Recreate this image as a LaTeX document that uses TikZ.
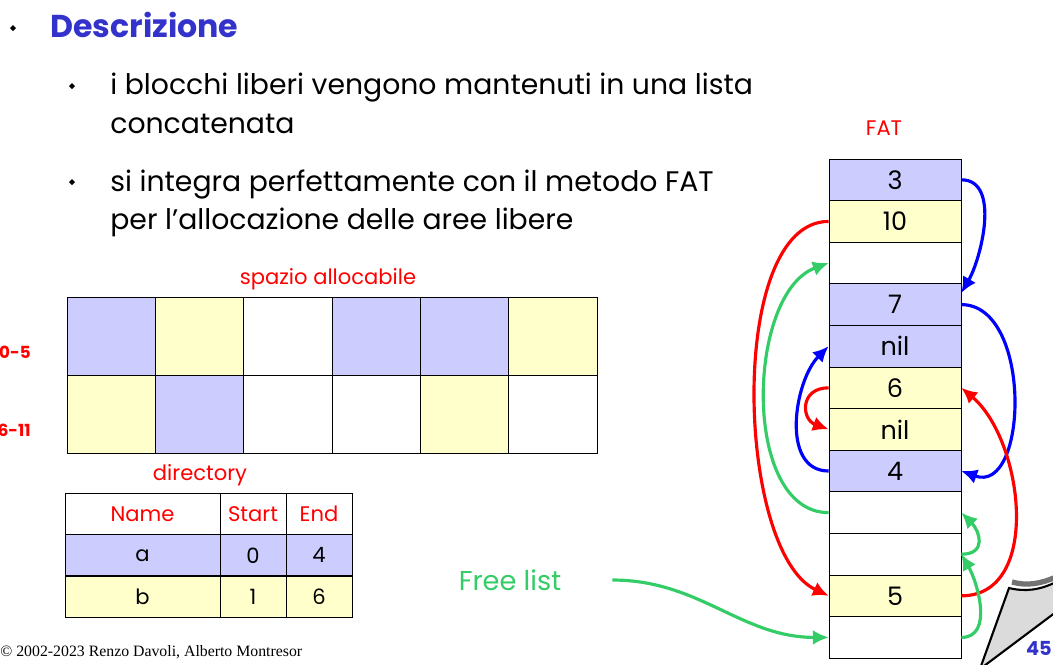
\documentclass[tikz,border=0pt]{standalone}
\usepackage{fontspec}
\setmainfont{Poppins}
\newfontfamily\footfont{Liberation Serif}
\usetikzlibrary{arrows.meta}
\definecolor{blu}{RGB}{204,204,255}
\definecolor{yel}{RGB}{255,255,204}
\definecolor{tblue}{RGB}{51,51,204}
\definecolor{fgreen}{RGB}{51,204,102}
\tikzset{
  cell/.style={draw, minimum width=2.64cm, minimum height=0.832cm, inner sep=0pt,
    font=\fontsize{14.5}{14.5}\selectfont},
  tcell/.style={draw, minimum height=0.82cm, inner sep=0pt, font=\fontsize{12}{12}\selectfont},
  link/.style={line width=1.8pt, -{Latex[length=9pt,width=8.5pt]}},
  body/.style={anchor=base west, inner sep=0pt, font=\fontsize{16.1}{16.1}\selectfont},
  lab/.style={text=red, font=\fontsize{12}{12}\selectfont},
  rowlab/.style={anchor=east, inner sep=0pt, text=red, font=\fontsize{9.5}{9.5}\selectfont\bfseries}
}
\begin{document}
\begin{tikzpicture}[x=0.02cm, y=-0.02cm]
\useasboundingbox (0,0) rectangle (1053,664);
% bullets
\fill (13,25) -- (16,28) -- (13,31) -- (10,28) -- cycle;
\fill (72,83) -- (75,86) -- (72,89) -- (69,86) -- cycle;
\fill (72,179) -- (75,182) -- (72,185) -- (69,182) -- cycle;
\node[body, text=tblue, font=\fontsize{18}{18}\selectfont\bfseries] (title) at (50,37) {Descrizione};
\node[body] (l1a) at (110,94) {i blocchi liberi vengono mantenuti in una lista};
\node[body] (l1b) at (110,133) {concatenata};
\node[body] (l2a) at (110,191) {si integra perfettamente con il metodo FAT};
\node[body] (l2b) at (110,229) {per l\symbol{39}allocazione delle aree libere};
% spazio allocabile
\node[lab] (spazio) at (328,279) {spazio allocabile};
\foreach \c [count=\i from 0] in {blu,yel,white,blu,blu,yel}
  \filldraw[fill=\c] (67+88.33*\i,297) rectangle ++(88.33,78);
\foreach \c [count=\i from 0] in {yel,blu,white,white,yel,white}
  \filldraw[fill=\c] (67+88.33*\i,375) rectangle ++(88.33,78);
\node[rowlab] (r0) at (31,352) {0-5};
\node[rowlab] (r1) at (31,430) {6-11};
% directory
\node[lab] (dir) at (200,475) {directory};
\foreach \n/\s/\e/\c [count=\i from 0] in {Name/Start/End/white, a/0/4/blu, b/1/6/yel}{
  \ifnum\i=0 \def\tc{red}\else\def\tc{black}\fi
  \node[tcell, fill=\c, text=\tc, minimum width=3.1cm] (n\i) at (142.5,514+41.3*\i) {\n};
  \node[tcell, fill=\c, text=\tc, minimum width=1.32cm] (s\i) at (253,514+41.3*\i) {\s};
  \node[tcell, fill=\c, text=\tc, minimum width=1.32cm] (e\i) at (319,514+41.3*\i) {\e};
}
% FAT
\node[lab] (fat) at (884,128) {FAT};
\foreach \v/\c [count=\i from 0] in {3/blu,10/yel,{}/white,7/blu,nil/blu,6/yel,nil/yel,4/blu,{}/white,{}/white,5/yel,{}/white}
  \node[cell, fill=\c] (f\i) at (895,179.8+41.6*\i) {\v};
% file a
\draw[link, blue] (f0.east) to[out=0, in=60, looseness=0.9] (f3.10);
\draw[link, blue] (f3.east) to[out=0, in=-20, looseness=1.1] (f7.east);
\draw[link, blue] (f7.west) to[out=180, in=225] (f4.west);
% file b
\draw[link, red] (f1.west) to[out=180, in=155, looseness=0.7] (f10.west);
\draw[link, red] (f10.east) to[out=0, in=-40] (f5.east);
\draw[link, red] (f5.west) to[out=180, in=160, looseness=1.8] (f6.west);
% free list
\node[text=fgreen, font=\fontsize{15.5}{15.5}\selectfont] (free) at (510,580) {Free list};
\draw[link, fgreen] ([xshift=0.9cm]free.east) to[out=0, in=180] (f11.west);
\draw[link, fgreen] (f11.east) to[out=0, in=-60] (f9.east);
\draw[link, fgreen] (f9.east) to[out=0, in=-45, looseness=1.6] (f8.east);
\draw[link, fgreen] (f8.west) to[out=180, in=200, looseness=0.9] (f2.west);
% footer and page curl
\node[anchor=base west, inner sep=0pt, font=\footfont\fontsize{9}{9}\selectfont] (foot) at (0,656) {© 2002-2023 Renzo Davoli, Alberto Montresor};
\filldraw[fill=black!14, line width=1.2pt] (981,666) -- (1009,588) .. controls (1025,592) and (1040,590) .. (1056,582) -- (1056,612) -- (984,666);
\draw[black!55, line width=3pt] (1012,582) .. controls (1027,586) and (1040,584) .. (1056,577);
\node[anchor=base east, inner sep=0pt, text=tblue, font=\fontsize{11}{11}\selectfont\bfseries] (page) at (1052,655) {45};
\end{tikzpicture}
\end{document}
